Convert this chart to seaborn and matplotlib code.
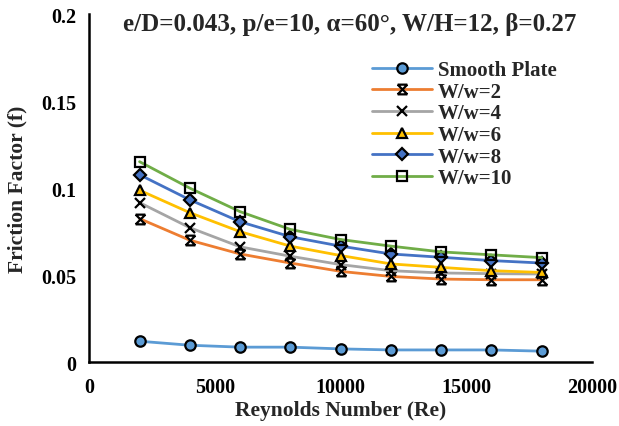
import numpy as np
import pandas as pd
import matplotlib
matplotlib.use("Agg")
import matplotlib.pyplot as plt
from matplotlib.path import Path
import seaborn as sns

# Reynolds numbers and friction factors for each configuration
reynolds = [2000, 4000, 6000, 8000, 10000, 12000, 14000, 16000, 18000]
smooth_plate = [0.0121, 0.0098, 0.0087, 0.0087, 0.0077, 0.0071, 0.0071, 0.0071, 0.0064]
ww_2 = [0.0825, 0.0701, 0.0622, 0.0570, 0.0522, 0.0493, 0.0478, 0.0474, 0.0474]
ww_4 = [0.0917, 0.0773, 0.0663, 0.0609, 0.0561, 0.0526, 0.0513, 0.0509, 0.0507]
ww_6 = [0.0988, 0.0859, 0.0750, 0.0667, 0.0613, 0.0565, 0.0545, 0.0526, 0.0516]
ww_8 = [0.1077, 0.0933, 0.0807, 0.0721, 0.0667, 0.0622, 0.0603, 0.0584, 0.0570]
ww_10 = [0.1152, 0.1000, 0.0865, 0.0763, 0.0705, 0.0667, 0.0634, 0.0617, 0.0601]

series_names = ["Smooth Plate", "W/w=2", "W/w=4", "W/w=6", "W/w=8", "W/w=10"]
x_ticks = [0, 5000, 10000, 15000, 20000]
x_tick_labels = ["0", "5000", "10000", "15000", "20000"]
y_ticks = [0, 0.05, 0.1, 0.15, 0.2]
y_tick_labels = ["0", "0.05", "0.1", "0.15", "0.2"]
title_text = "e/D=0.043, p/e=10, \u03b1=60\u00b0, W/H=12, \u03b2=0.27"

sns.set_theme(style="white")
plt.rcParams["font.family"] = ["Liberation Serif", "DejaVu Serif"]
plt.rcParams["font.weight"] = "bold"

# star-like marker: an X closed by short bars at top and bottom
star_path = Path(
    [(-1, -1), (1, 1), (-1, 1), (1, -1), (-1, 1), (1, 1), (-1, -1), (1, -1)],
    [Path.MOVETO, Path.LINETO, Path.MOVETO, Path.LINETO,
     Path.MOVETO, Path.LINETO, Path.MOVETO, Path.LINETO],
)

styles = {
    "Smooth Plate": dict(color="#5B9BD5", marker="o", mfc="#5B9BD5", ms=7.5),
    "W/w=2": dict(color="#ED7D31", marker=star_path, mfc="none", ms=7),
    "W/w=4": dict(color="#A5A5A5", marker="x", mfc="none", ms=7),
    "W/w=6": dict(color="#FFC000", marker="^", mfc="#FFC000", ms=7.5),
    "W/w=8": dict(color="#4472C4", marker="D", mfc="#4472C4", ms=6),
    "W/w=10": dict(color="#70AD47", marker="s", mfc="none", ms=7.5),
}
values = [smooth_plate, ww_2, ww_4, ww_6, ww_8, ww_10]

fig = plt.figure(figsize=(6.19, 4.27), dpi=100)
ax = fig.add_axes([89.3 / 619, 1 - 363.3 / 427, (592 - 89.3) / 619, (363.3 - 15) / 427])

for name, vals in zip(series_names, values):
    st = styles[name]
    sns.lineplot(
        x=reynolds, y=vals, ax=ax, label=name,
        color=st["color"], marker=st["marker"], markersize=st["ms"],
        markerfacecolor=st["mfc"], markeredgecolor="black", markeredgewidth=1.6,
        linewidth=2.0,
    )

ax.set_xlim(0, 20000)
ax.set_ylim(0, 0.2)
ax.set_xticks(x_ticks)
ax.set_xticklabels(x_tick_labels)
ax.set_yticks(y_ticks)
ax.set_yticklabels(y_tick_labels)
ax.tick_params(axis="both", direction="inout", length=9, width=1.8,
               labelsize=14.5, color="black", labelcolor="black")
ax.tick_params(axis="x", pad=6)
ax.tick_params(axis="y", pad=5)
for side in ["top", "right"]:
    ax.spines[side].set_visible(False)
for side in ["left", "bottom"]:
    ax.spines[side].set_linewidth(1.8)
    ax.spines[side].set_color("black")

ax.set_xlabel("Reynolds Number (Re)", fontsize=15.5, fontweight="bold", labelpad=2)
ax.set_ylabel("Friction Factor (f)", fontsize=15.5, fontweight="bold", labelpad=10)

fig.text(123 / 619, 1 - 24 / 427, title_text, fontsize=18, fontweight="bold",
         ha="left", va="center")

leg = ax.legend(
    loc="upper left", bbox_to_anchor=(372 / 619, 1 - 61 / 427),
    bbox_transform=fig.transFigure, frameon=False, fontsize=15,
    handlelength=2.9, handletextpad=0.25, labelspacing=0.08,
    borderpad=0, borderaxespad=0,
)

fig.savefig("out.png", dpi=100)
